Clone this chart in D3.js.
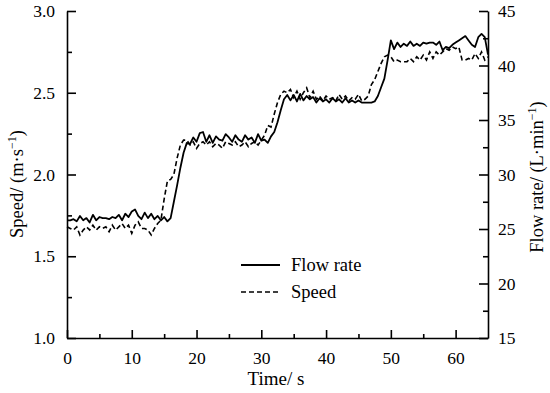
<!DOCTYPE html>
<html>
<head>
    <title>Speed and flow rate</title>
    <script src="https://d3js.org/d3.v7.min.js"></script>
    <style>
        body { margin: 0; background: #fff; }
        text { font-family: "Liberation Serif", "Times New Roman", serif; fill: #000; }
        .axis path, .axis line { stroke: #000; stroke-width: 1.6px; }
    </style>
</head>
<body>
<div id="chart"></div>
<script>
    // time (s), sampled every 0.5 s
    var times = [
        0, 0.5, 1, 1.5, 2, 2.5, 3, 3.5, 4, 4.5, 5, 5.5, 6, 6.5, 7, 7.5, 8, 8.5, 9, 9.5,
        10, 10.5, 11, 11.5, 12, 12.5, 13, 13.5, 14, 14.5, 15, 15.5, 16, 16.5, 17, 17.5, 18, 18.5, 19, 19.5,
        20, 20.5, 21, 21.5, 22, 22.5, 23, 23.5, 24, 24.5, 25, 25.5, 26, 26.5, 27, 27.5, 28, 28.5, 29, 29.5,
        30, 30.5, 31, 31.5, 32, 32.5, 33, 33.5, 34, 34.5, 35, 35.5, 36, 36.5, 37, 37.5, 38, 38.5, 39, 39.5,
        40, 40.5, 41, 41.5, 42, 42.5, 43, 43.5, 44, 44.5, 45, 45.5, 46, 46.5, 47, 47.5, 48, 48.5, 49, 49.5,
        50, 50.5, 51, 51.5, 52, 52.5, 53, 53.5, 54, 54.5, 55, 55.5, 56, 56.5, 57, 57.5, 58, 58.5, 59, 59.5,
        60, 60.5, 61, 61.5, 62, 62.5, 63, 63.5, 64, 64.5, 65
    ];

    // flow rate (L/min), right axis
    var flowRate = [
        25.8, 25.8, 25.9, 25.7, 26.2, 25.8, 26.0, 25.6, 26.3, 25.8, 26.1, 26.0, 26.0, 25.9, 26.1, 26.0, 26.3, 25.8, 26.4, 26.1,
        26.6, 26.8, 26.2, 25.9, 26.5, 26.0, 26.4, 25.9, 26.2, 25.8, 26.1, 25.7, 26.0, 27.5, 29.0, 30.6, 32.0, 32.9, 32.8, 33.4,
        33.0, 33.8, 33.9, 33.0, 33.6, 32.9, 33.5, 33.2, 33.1, 33.7, 33.4, 33.0, 33.6, 33.2, 33.0, 33.6, 33.2, 33.4, 32.9, 33.7,
        33.1, 33.2, 32.9, 33.5, 33.9, 34.8, 35.9, 36.9, 37.3, 36.8, 37.3, 36.7, 37.4, 36.8, 37.2, 36.9, 37.1, 36.6, 37.0, 36.7,
        36.9, 36.6, 37.0, 36.7, 36.9, 36.6, 37.0, 36.6, 36.8, 36.6, 36.8, 36.6, 36.6, 36.6, 36.6, 36.7, 37.2, 38.0, 38.8, 40.5,
        42.3, 41.5, 42.1, 41.7, 42.0, 41.8, 42.2, 41.8, 42.0, 41.8, 42.1, 42.0, 42.1, 42.1, 41.9, 42.2, 41.4, 41.7, 41.6, 41.9,
        42.1, 42.3, 42.5, 42.7, 42.3, 41.9, 41.7, 42.6, 42.9, 42.6, 41.0
    ];

    // speed (m/s), left axis
    var speed = [
        1.68, 1.67, 1.66, 1.68, 1.63, 1.66, 1.68, 1.66, 1.69, 1.66, 1.68, 1.67, 1.68, 1.65, 1.69, 1.66, 1.68, 1.70, 1.67, 1.69,
        1.64, 1.69, 1.71, 1.67, 1.67, 1.66, 1.63, 1.67, 1.70, 1.72, 1.85, 1.96, 1.97, 2.00, 2.10, 2.18, 2.21, 2.21, 2.18, 2.20,
        2.16, 2.19, 2.20, 2.18, 2.20, 2.17, 2.19, 2.18, 2.16, 2.20, 2.19, 2.18, 2.20, 2.17, 2.18, 2.20, 2.17, 2.19, 2.20, 2.18,
        2.21, 2.24, 2.30, 2.29, 2.37, 2.44, 2.49, 2.51, 2.50, 2.52, 2.47, 2.51, 2.46, 2.50, 2.53, 2.47, 2.51, 2.46, 2.48, 2.45,
        2.48, 2.46, 2.47, 2.45, 2.49, 2.46, 2.48, 2.45, 2.47, 2.46, 2.49, 2.45, 2.46, 2.48, 2.55, 2.58, 2.63, 2.68, 2.72, 2.73,
        2.72, 2.69, 2.70, 2.69, 2.69, 2.69, 2.71, 2.69, 2.72, 2.70, 2.73, 2.70, 2.75, 2.71, 2.75, 2.73, 2.75, 2.77, 2.76, 2.78,
        2.77, 2.78, 2.70, 2.70, 2.71, 2.70, 2.74, 2.71, 2.75, 2.70, 2.72
    ];

    var timeTicks = [0, 10, 20, 30, 40, 50, 60];
    var speedTicks = [1.0, 1.5, 2.0, 2.5, 3.0];
    var flowTicks = [15, 20, 25, 30, 35, 40, 45];

    var width = 550, height = 393;
    var margin = { top: 11, right: 62, bottom: 55, left: 67 };
    var innerW = width - margin.left - margin.right;
    var innerH = height - margin.top - margin.bottom;

    var svg = d3.select("#chart").append("svg")
        .attr("width", width)
        .attr("height", height);

    var g = svg.append("g")
        .attr("transform", "translate(" + margin.left + "," + margin.top + ")");

    var x = d3.scaleLinear().domain([0, 65]).range([0, innerW]);
    var ySpeed = d3.scaleLinear().domain([1.0, 3.0]).range([innerH, 0]);
    var yFlow = d3.scaleLinear().domain([15, 45]).range([innerH, 0]);

    // minor ticks (no labels)
    g.append("g").attr("class", "axis")
        .attr("transform", "translate(0," + innerH + ")")
        .call(d3.axisBottom(x).tickValues(d3.range(5, 65, 10)).tickSize(-4).tickFormat(""))
        .select(".domain").remove();
    g.append("g").attr("class", "axis")
        .call(d3.axisLeft(ySpeed).tickValues([1.25, 1.75, 2.25, 2.75]).tickSize(-5).tickFormat(""))
        .select(".domain").remove();
    g.append("g").attr("class", "axis")
        .attr("transform", "translate(" + innerW + ",0)")
        .call(d3.axisRight(yFlow).tickValues([17.5, 22.5, 27.5, 32.5, 37.5, 42.5]).tickSize(-5).tickFormat(""))
        .select(".domain").remove();

    // major axes
    g.append("g").attr("class", "axis")
        .attr("transform", "translate(0," + innerH + ")")
        .call(d3.axisBottom(x).tickValues(timeTicks).tickSizeInner(-8).tickSizeOuter(0).tickPadding(14));
    g.append("g").attr("class", "axis")
        .call(d3.axisLeft(ySpeed).tickValues(speedTicks).tickFormat(d3.format(".1f")).tickSizeInner(-9).tickSizeOuter(0).tickPadding(12));
    g.append("g").attr("class", "axis")
        .attr("transform", "translate(" + innerW + ",0)")
        .call(d3.axisRight(yFlow).tickValues(flowTicks).tickSizeInner(-9).tickSizeOuter(0).tickPadding(10));

    svg.selectAll(".axis text")
        .style("font-size", "17.5px")
        .style("font-family", "Liberation Serif, serif");

    // lines
    var flowLine = d3.line()
        .x((d, i) => x(times[i]))
        .y(d => yFlow(d));
    var speedLine = d3.line()
        .x((d, i) => x(times[i]))
        .y(d => ySpeed(d));

    g.append("path")
        .datum(flowRate)
        .attr("fill", "none")
        .attr("stroke", "#000")
        .attr("stroke-width", 1.8)
        .attr("stroke-linejoin", "round")
        .attr("d", flowLine);

    g.append("path")
        .datum(speed)
        .attr("fill", "none")
        .attr("stroke", "#000")
        .attr("stroke-width", 1.6)
        .attr("stroke-dasharray", "5,3")
        .attr("d", speedLine);

    // legend
    var legend = svg.append("g").attr("transform", "translate(241,265)");
    legend.append("line")
        .attr("x1", 0).attr("x2", 39).attr("y1", 0).attr("y2", 0)
        .attr("stroke", "#000").attr("stroke-width", 1.8);
    legend.append("text")
        .attr("x", 50).attr("y", 6)
        .style("font-size", "18.5px")
        .text("Flow rate");
    legend.append("line")
        .attr("x1", 0).attr("x2", 39).attr("y1", 27).attr("y2", 27)
        .attr("stroke", "#000").attr("stroke-width", 1.6)
        .attr("stroke-dasharray", "5,3");
    legend.append("text")
        .attr("x", 50).attr("y", 33)
        .style("font-size", "18.5px")
        .text("Speed");

    // axis titles
    svg.append("text")
        .attr("x", 276)
        .attr("y", 385)
        .attr("text-anchor", "middle")
        .style("font-size", "19px")
        .text("Time/ s");

    var leftTitle = svg.append("text")
        .attr("transform", "translate(23,184) rotate(-90)")
        .attr("text-anchor", "middle")
        .style("font-size", "18.5px");
    leftTitle.append("tspan").text("Speed/ (m·s");
    leftTitle.append("tspan").attr("dy", -7).style("font-size", "12px").text("−1");
    leftTitle.append("tspan").attr("dy", 7).text(")");

    var rightTitle = svg.append("text")
        .attr("transform", "translate(543,177) rotate(-90)")
        .attr("text-anchor", "middle")
        .style("font-size", "18.5px");
    rightTitle.append("tspan").text("Flow rate/ (L·min");
    rightTitle.append("tspan").attr("dy", -7).style("font-size", "12px").text("−1");
    rightTitle.append("tspan").attr("dy", 7).text(")");
</script>
</body>
</html>
